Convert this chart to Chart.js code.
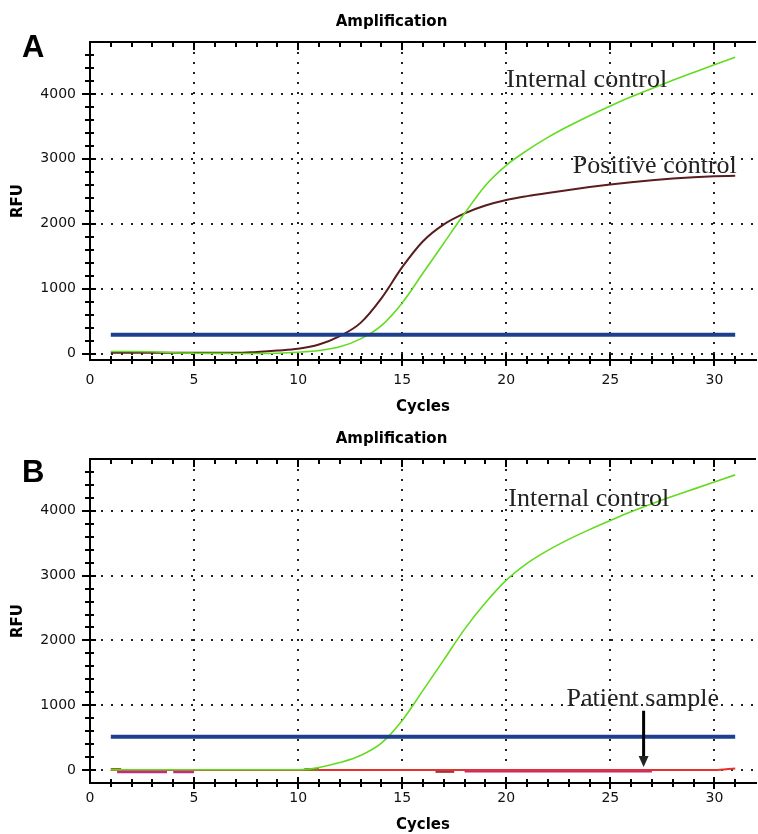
<!DOCTYPE html>
<html>
<head>
<meta charset="utf-8">
<title>Amplification</title>
<script src="https://cdn.jsdelivr.net/npm/chart.js@4.4.0/dist/chart.umd.min.js"></script>
<style>
  body { margin: 0; background: #fff; }
  .panel { position: absolute; left: 0; width: 758px; height: 417px; }
</style>
</head>
<body>
<div class="panel" style="top:0"><canvas id="chartA" width="758" height="417"></canvas></div>
<div class="panel" style="top:417px"><canvas id="chartB" width="758" height="417"></canvas></div>
<script>
// cycle numbers shared by both runs
const cycles = [1, 2, 3, 4, 5, 6, 7, 8, 9, 10, 11, 12, 13, 14, 15, 16,
                17, 18, 19, 20, 21, 22, 23, 24, 25, 26, 27, 28, 29, 30, 31];

// panel A
const internalA = [30, 32, 28, 12, 5, 2, 0, 0, 5, 20, 46, 103, 226, 431, 780, 1240,
                   1700, 2160, 2590, 2900, 3130, 3330, 3505, 3665, 3815, 3955, 4085, 4210, 4330, 4448, 4564];
const positiveA = [10, 10, 10, 10, 10, 10, 10, 25, 45, 72, 138, 267, 472, 850, 1330, 1730,
                   1990, 2160, 2280, 2365, 2425, 2475, 2520, 2565, 2605, 2640, 2670, 2695, 2715, 2730, 2740];
const thresholdA = 290;

// panel B
const internalB = [5, 5, 5, 5, 5, 5, 5, 5, 5, 5, 40, 115, 225, 415, 765, 1230,
                   1700, 2175, 2580, 2930, 3190, 3390, 3560, 3710, 3850, 3985, 4110, 4225, 4335, 4445, 4555];
const patientB = [0, 0, 0, 0, 0, 0, 0, 0, 0, 0, 0, 0, 0, 0, 0, 0,
                  0, 0, 0, 0, 0, 0, 0, 0, 0, 0, 0, 0, 0, 0, 25];
const magentaX = [1.3, 3.7, 3.85, 4.0, 5.0, 11, 18.0, 27.0];
const magentaY = [-25, -25, null, -25, -25, null, -15, -15];
const darkRedX = [16.6, 17.5];
const darkRedY = [-20, -20];
const brownX = [1.0, 1.5, 6, 10.3, 11.0];
const brownY = [10, 10, null, 10, 10];
const thresholdB = 515;

const thresholdSpan = [1, 31];

const pts = (xs, ys) => xs.map((x, i) => ({x: x, y: ys[i]}));
const flat = (v) => thresholdSpan.map(x => ({x: x, y: v}));

const GREEN = '#62dc1e';
const BLUE = '#1d3f8e';

// axis frame: top border + cross-shaped tick marks like the instrument software
const frameTicks = {
    id: 'frameTicks',
    afterDraw(chart) {
        const {ctx, chartArea: a, scales: {x, y}} = chart;
        ctx.save();
        ctx.strokeStyle = '#000';
        ctx.lineWidth = 2;
        ctx.beginPath();
        ctx.moveTo(a.left - 1, a.top);
        ctx.lineTo(a.right, a.top);
        x.ticks.forEach(t => {
            if (t.value <= x.min || t.value >= x.max) return;
            const px = Math.round(x.getPixelForValue(t.value));
            const major = t.value % 5 === 0;
            ctx.moveTo(px, a.top);
            ctx.lineTo(px, a.top + (major ? 8 : 5));
            ctx.moveTo(px, a.bottom - (major ? 6 : 4));
            ctx.lineTo(px, a.bottom + (major ? 6 : 4));
        });
        y.ticks.forEach(t => {
            if (t.value % 200 !== 0 || t.value <= y.min || t.value >= y.max) return;
            const py = Math.round(y.getPixelForValue(t.value));
            const major = t.value % 1000 === 0;
            ctx.moveTo(a.left - (major ? 8 : 5), py);
            ctx.lineTo(a.left + (major ? 6 : 4), py);
        });
        ctx.stroke();
        ctx.restore();
    }
};

// panel letter, hand-written labels and the arrow
const notes = {
    id: 'notes',
    afterDatasetsDraw(chart, args, opts) {
        const {ctx, scales: {x, y}} = chart;
        ctx.save();
        ctx.fillStyle = '#000';
        ctx.textBaseline = 'alphabetic';
        ctx.font = 'bold 31px "Liberation Sans", Arial, sans-serif';
        ctx.fillText(opts.panel, 22, opts.panelBaseline);
        ctx.font = '26px "Liberation Serif", "Times New Roman", serif';
        ctx.fillStyle = '#222';
        (opts.labels || []).forEach(l => {
            ctx.fillText(l.text, x.getPixelForValue(l.x), y.getPixelForValue(l.y));
        });
        if (opts.arrow) {
            const ax = x.getPixelForValue(opts.arrow.x);
            const y1 = y.getPixelForValue(opts.arrow.from);
            const y2 = y.getPixelForValue(opts.arrow.to);
            ctx.strokeStyle = '#000';
            ctx.lineWidth = 3;
            ctx.beginPath();
            ctx.moveTo(ax, y1);
            ctx.lineTo(ax, y2 - 9);
            ctx.stroke();
            ctx.beginPath();
            ctx.moveTo(ax - 5, y2 - 11);
            ctx.lineTo(ax + 5, y2 - 11);
            ctx.lineTo(ax, y2);
            ctx.closePath();
            ctx.fill();
        }
        ctx.restore();
    }
};

const boldFont = {family: 'DejaVu Sans', size: 15, weight: 'bold'};
const tickFont = {family: 'DejaVu Sans', size: 14};

function makeChart(id, datasets, cfg) {
    return new Chart(document.getElementById(id), {
        type: 'line',
        data: { datasets: datasets },
        options: {
            responsive: false,
            animation: false,
            devicePixelRatio: 1,
            layout: { padding: { left: 27, right: 2, top: 0, bottom: 0 } },
            elements: {
                point: { radius: 0 },
                line: { cubicInterpolationMode: 'monotone' }
            },
            plugins: {
                legend: { display: false },
                tooltip: { enabled: false },
                title: {
                    display: true,
                    text: 'Amplification',
                    color: '#000',
                    font: boldFont,
                    padding: { top: 13, bottom: 11 }
                },
                notes: cfg.notes
            },
            scales: {
                x: {
                    type: 'linear',
                    min: 0,
                    max: 32,
                    ticks: {
                        stepSize: 1,
                        autoSkip: false,
                        maxRotation: 0,
                        padding: cfg.xPad,
                        color: '#111',
                        font: tickFont,
                        callback: v => v % 5 === 0 ? String(v) : ''
                    },
                    grid: {
                        color: c => (c.tick && c.tick.value % 5 === 0 && c.tick.value > 0 && c.tick.value < 32) ? '#222' : 'rgba(0,0,0,0)',
                        lineWidth: 2,
                        drawTicks: false
                    },
                    border: { display: true, color: '#000', width: 2, dash: [2, 8] },
                    title: {
                        display: true,
                        text: 'Cycles',
                        color: '#000',
                        font: boldFont,
                        padding: { top: 0, bottom: cfg.cyclesPad }
                    },
                    afterFit: s => {
                        s.height = cfg.xHeight;
                        s.paddingLeft = 0;
                        s.paddingRight = 0;
                    }
                },
                y: {
                    min: cfg.yMin,
                    max: 4800,
                    ticks: {
                        autoSkip: false,
                        padding: 14,
                        color: '#111',
                        font: tickFont,
                        callback: v => v % 1000 === 0 ? String(v) : ''
                    },
                    afterBuildTicks: s => {
                        const list = [];
                        for (let v = 0; v <= 4800; v += 200) list.push({value: v});
                        s.ticks = list;
                    },
                    grid: {
                        color: c => (c.tick && c.tick.value % 1000 === 0) ? '#222' : 'rgba(0,0,0,0)',
                        lineWidth: 2,
                        drawTicks: false
                    },
                    border: { display: true, color: '#000', width: 2, dash: [2, 8] },
                    title: {
                        display: true,
                        text: 'RFU',
                        color: '#000',
                        font: boldFont,
                        padding: { top: -17.5, bottom: 0 }
                    },
                    afterFit: s => {
                        s.width = 63;
                        s.paddingTop = 0;
                        s.paddingBottom = 0;
                    }
                }
            }
        },
        plugins: [frameTicks, notes]
    });
}

makeChart('chartA', [
    { label: 'Threshold', data: flat(thresholdA), borderColor: BLUE, borderWidth: 4, order: 0 },
    { label: 'Internal control', data: pts(cycles, internalA), borderColor: GREEN, borderWidth: 1.6, order: 1 },
    { label: 'Positive control', data: pts(cycles, positiveA), borderColor: '#5a1c1e', borderWidth: 2, order: 2 }
], {
    yMin: -100, xHeight: 57, xPad: 12, cyclesPad: 1,
    notes: {
        panel: 'A', panelBaseline: 57,
        labels: [
            { text: 'Internal control', x: 20.0, y: 4110 },
            { text: 'Positive control', x: 23.2, y: 2780 }
        ]
    }
});

makeChart('chartB', [
    { label: 'Threshold', data: flat(thresholdB), borderColor: BLUE, borderWidth: 4, order: 0 },
    { label: 'Internal control', data: pts(cycles, internalB), borderColor: GREEN, borderWidth: 1.6, order: 1 },
    { label: 'Trace', data: pts(brownX, brownY), borderColor: '#9a6a2a', borderWidth: 3, order: 2 },
    { label: 'Patient sample', data: pts(cycles, patientB), borderColor: '#e5322d', borderWidth: 2, order: 3 },
    { label: 'Trace 2', data: pts(darkRedX, darkRedY), borderColor: '#a0303a', borderWidth: 3, order: 4 },
    { label: 'Trace 3', data: pts(magentaX, magentaY), borderColor: '#c22a8a', borderWidth: 3, order: 5 }
], {
    yMin: -200, xHeight: 51, xPad: 7, cyclesPad: 0,
    notes: {
        panel: 'B', panelBaseline: 65,
        labels: [
            { text: 'Internal control', x: 20.1, y: 4080 },
            { text: 'Patient sample', x: 22.9, y: 990 }
        ],
        arrow: { x: 26.6, from: 915, to: 45 }
    }
});
</script>
</body>
</html>
